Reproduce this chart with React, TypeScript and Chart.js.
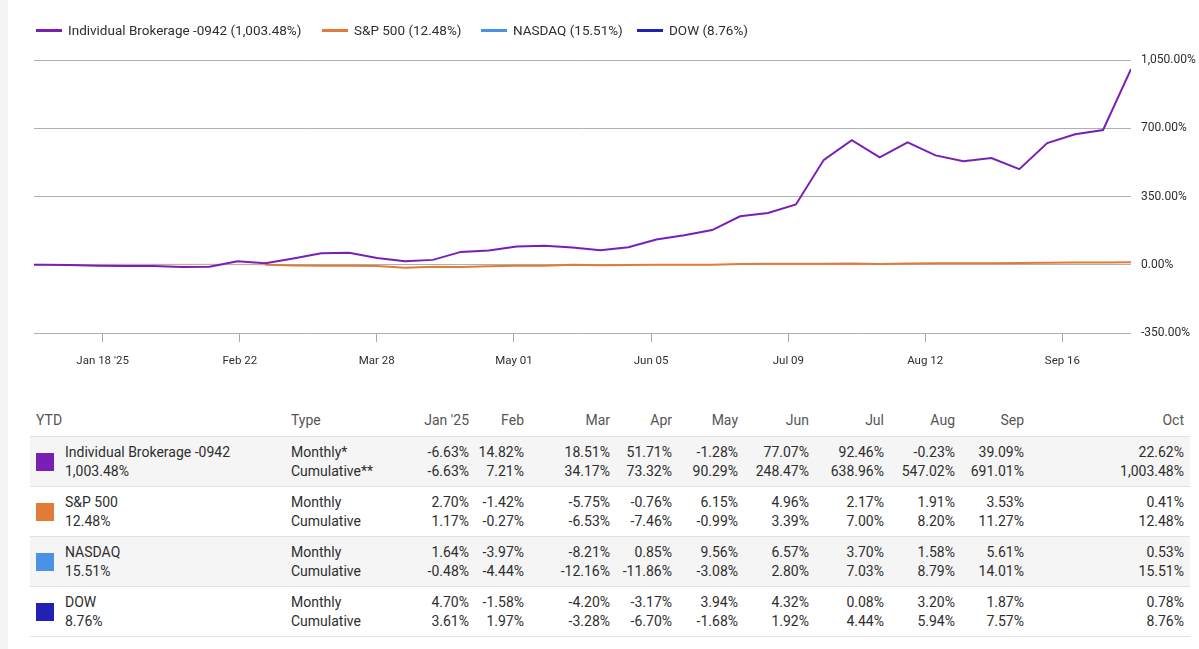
import React, { useEffect, useRef } from "react";
import { Chart, registerables } from "chart.js";

Chart.register(...registerables);

// ---- chart data (weekly, YTD cumulative %) ----
const dates = [
  "2025-01-01", "2025-01-03", "2025-01-10", "2025-01-17", "2025-01-24", "2025-01-31",
  "2025-02-07", "2025-02-14", "2025-02-21", "2025-02-28",
  "2025-03-07", "2025-03-14", "2025-03-21", "2025-03-28",
  "2025-04-04", "2025-04-11", "2025-04-18", "2025-04-25",
  "2025-05-02", "2025-05-09", "2025-05-16", "2025-05-23", "2025-05-30",
  "2025-06-06", "2025-06-13", "2025-06-20", "2025-06-27",
  "2025-07-04", "2025-07-11", "2025-07-18", "2025-07-25",
  "2025-08-01", "2025-08-08", "2025-08-15", "2025-08-22", "2025-08-29",
  "2025-09-05", "2025-09-12", "2025-09-19", "2025-09-26", "2025-10-03",
];

const brokerage = [
  0, 0, -1, -5, -7, -6.63,
  -11, -10, 18, 7.21,
  32, 59, 62, 34.17,
  18, 25, 66, 73.32,
  93, 98, 88, 75, 90.29,
  129, 151, 178, 248.47,
  265, 309, 538, 638.96,
  551, 628, 561, 531, 547.02,
  490, 624, 669, 691.01, 1003.48,
];

const sp500 = [
  0, -0.47, -2.4, 0.44, 2.19, 1.17,
  0.93, 2.41, 0.71, -0.27,
  -3.36, -5.55, -5.07, -6.53,
  -15.0, -10.17, -11.52, -7.46,
  -4.76, -5.2, -0.2, -2.81, -0.99,
  0.5, 0.11, -0.05, 3.39,
  5.17, 4.84, 5.46, 7.0,
  4.48, 7.02, 8.03, 8.31, 8.2,
  8.56, 10.28, 11.62, 11.27, 12.48,
];

const nasdaq = [
  0, -0.51, -2.84, -0.47, 1.18, -0.48,
  -1.01, 1.54, -1.0, -4.44,
  -7.74, -9.98, -9.83, -12.16,
  -20.96, -15.2, -17.42, -11.86,
  -8.84, -9.09, -2.59, -4.99, -3.08,
  -0.97, -1.6, -1.39, 2.8,
  4.46, 4.38, 5.95, 7.03,
  4.7, 8.76, 9.64, 9.0, 8.79,
  10.03, 12.27, 14.75, 14.01, 15.51,
];

const dow = [
  0, -0.61, -2.45, 1.15, 3.33, 3.61,
  3.05, 3.61, 1.01, 1.97,
  -0.44, -3.5, -2.34, -3.28,
  -10.88, -6.47, -8.96, -6.7,
  -3.9, -4.06, -0.79, -3.23, -1.68,
  -0.53, -1.85, -1.83, 1.92,
  4.27, 3.21, 3.14, 4.44,
  1.39, 2.75, 4.54, 6.14, 5.94,
  5.6, 6.61, 7.73, 7.57, 8.76,
];

// x tick positions (days since Jan 1) and their labels
const tickDays = [17.2, 51.6, 85.9, 120.3, 154.7, 189.1, 223.4, 257.8];
const tickLabels = ["Jan 18 '25", "Feb 22", "Mar 28", "May 01", "Jun 05", "Jul 09", "Aug 12", "Sep 16"];
const yMin = -350;
const yMax = 1050;
const yStep = 350;

// ---- series meta ----
const seriesNames = ["Individual Brokerage -0942", "S&P 500", "NASDAQ", "DOW"];
const seriesTotals = ["1,003.48%", "12.48%", "15.51%", "8.76%"];
const seriesColors = ["#7a1fb6", "#e37b38", "#4a93e4", "#2121b3"];
const seriesHiddenOnChart = [false, false, true, true];
const benchmarkFadedUntil = "2025-02-28";

// ---- table data ----
const monthHeaders = ["Jan '25", "Feb", "Mar", "Apr", "May", "Jun", "Jul", "Aug", "Sep", "Oct"];
const typeLabels = [
  ["Monthly*", "Cumulative**"],
  ["Monthly", "Cumulative"],
  ["Monthly", "Cumulative"],
  ["Monthly", "Cumulative"],
];
const brokerageMonthly = [-6.63, 14.82, 18.51, 51.71, -1.28, 77.07, 92.46, -0.23, 39.09, 22.62];
const brokerageCumulative = [-6.63, 7.21, 34.17, 73.32, 90.29, 248.47, 638.96, 547.02, 691.01, 1003.48];
const spMonthly = [2.7, -1.42, -5.75, -0.76, 6.15, 4.96, 2.17, 1.91, 3.53, 0.41];
const spCumulative = [1.17, -0.27, -6.53, -7.46, -0.99, 3.39, 7.0, 8.2, 11.27, 12.48];
const nasdaqMonthly = [1.64, -3.97, -8.21, 0.85, 9.56, 6.57, 3.7, 1.58, 5.61, 0.53];
const nasdaqCumulative = [-0.48, -4.44, -12.16, -11.86, -3.08, 2.8, 7.03, 8.79, 14.01, 15.51];
const dowMonthly = [4.7, -1.58, -4.2, -3.17, 3.94, 4.32, 0.08, 3.2, 1.87, 0.78];
const dowCumulative = [3.61, 1.97, -3.28, -6.7, -1.68, 1.92, 4.44, 5.94, 7.57, 8.76];

const FONT = "Roboto, 'Noto Sans', sans-serif";
const TEXT = "#2e2e2e";

const pct = (v: number) =>
  v.toLocaleString("en-US", { minimumFractionDigits: 2, maximumFractionDigits: 2 }) + "%";

const dayOf = (s: string) => {
  const [y, m, d] = s.split("-").map(Number);
  return (Date.UTC(y, m - 1, d) - Date.UTC(2025, 0, 1)) / 86400000;
};

const legendLeft = [36, 322, 481, 637];

export default function App() {
  const canvasRef = useRef<HTMLCanvasElement | null>(null);

  useEffect(() => {
    const canvas = canvasRef.current;
    if (!canvas) return;
    const xs = dates.map(dayOf);
    const fadeIdx = dates.indexOf(benchmarkFadedUntil);
    const all = [brokerage, sp500, nasdaq, dow];
    const chart = new Chart(canvas, {
      type: "line",
      data: {
        datasets: all.map((vals, k) => ({
          label: seriesNames[k],
          data: vals.map((v, i) => ({ x: xs[i], y: v })),
          borderColor: seriesColors[k],
          backgroundColor: seriesColors[k],
          borderWidth: 2,
          pointRadius: 0,
          pointHoverRadius: 0,
          tension: 0,
          fill: false,
          hidden: seriesHiddenOnChart[k],
          segment:
            k === 0
              ? undefined
              : {
                  borderColor: (c: any) =>
                    c.p1DataIndex <= fadeIdx ? "rgba(240, 170, 120, 0.3)" : undefined,
                },
        })),
      },
      options: {
        responsive: false,
        maintainAspectRatio: false,
        animation: false,
        layout: { padding: { left: 34, right: 0, top: 60, bottom: 7 } },
        plugins: { legend: { display: false }, tooltip: { enabled: false } },
        scales: {
          x: {
            type: "linear",
            min: 0,
            max: dayOf(dates[dates.length - 1]),
            afterBuildTicks: (s: any) => {
              s.ticks = tickDays.map((v) => ({ value: v }));
            },
            afterFit: (s: any) => {
              s.height = 40;
            },
            grid: {
              display: true,
              drawOnChartArea: false,
              drawTicks: true,
              tickLength: 9,
              color: "#a8a8a8",
              lineWidth: 1,
            },
            border: { display: false },
            ticks: {
              autoSkip: false,
              maxRotation: 0,
              padding: 12,
              color: TEXT,
              font: { family: FONT, size: 11.5 },
              callback: (_v: any, i: number) => tickLabels[i],
            },
          },
          y: {
            position: "right",
            min: yMin,
            max: yMax,
            afterFit: (s: any) => {
              s.width = 68;
            },
            grid: { color: "#b0b0b0", lineWidth: 1, drawTicks: false },
            border: { display: false },
            ticks: {
              stepSize: yStep,
              padding: 10,
              color: TEXT,
              font: { family: FONT, size: 12 },
              callback: (v: any) => pct(Number(v)),
            },
          },
        },
      },
    } as any);
    return () => chart.destroy();
  }, []);

  const tableRows = [
    [brokerageMonthly, brokerageCumulative],
    [spMonthly, spCumulative],
    [nasdaqMonthly, nasdaqCumulative],
    [dowMonthly, dowCumulative],
  ];
  const colWidths = [260, 110, 69, 55, 86, 62, 66, 71, 75, 71, 69, 166];

  return (
    <div
      style={{
        position: "absolute",
        left: 0,
        top: 0,
        width: 1199,
        height: 649,
        background: "#ffffff",
        overflow: "hidden",
        fontFamily: FONT,
        color: TEXT,
      }}
    >
      <div style={{ position: "absolute", left: 0, top: 0, width: 8, height: 649, background: "#f3f3f3" }} />
      <canvas
        ref={canvasRef}
        width={1199}
        height={380}
        style={{ position: "absolute", left: 0, top: 0, width: 1199, height: 380 }}
      />
      {seriesNames.map((n, k) => (
        <div
          key={n}
          style={{
            position: "absolute",
            left: legendLeft[k],
            top: 21,
            height: 18,
            display: "flex",
            alignItems: "center",
            fontSize: 13.5,
            whiteSpace: "nowrap",
          }}
        >
          <span style={{ display: "inline-block", width: 26, height: 3, background: seriesColors[k], marginRight: 6 }} />
          <span>
            {n} ({seriesTotals[k]})
          </span>
        </div>
      ))}
      <table
        style={{
          position: "absolute",
          left: 30,
          top: 405,
          width: 1160,
          borderCollapse: "collapse",
          tableLayout: "fixed",
          fontSize: 14,
          lineHeight: "19px",
          color: TEXT,
        }}
      >
        <colgroup>
          {colWidths.map((w, i) => (
            <col key={i} style={{ width: w }} />
          ))}
        </colgroup>
        <thead>
          <tr style={{ height: 31, borderBottom: "1px solid #e2e2e2" }}>
            <th style={{ textAlign: "left", fontWeight: 400, paddingLeft: 6, color: "#555" }}>YTD</th>
            <th style={{ textAlign: "left", fontWeight: 400, color: "#555" }}>Type</th>
            {monthHeaders.map((m, i) => (
              <th
                key={m}
                style={{
                  textAlign: "right",
                  fontWeight: 400,
                  color: "#555",
                  paddingRight: i === monthHeaders.length - 1 ? 6 : 0,
                }}
              >
                {m}
              </th>
            ))}
          </tr>
        </thead>
        <tbody>
          {tableRows.map((r, k) => (
            <tr
              key={k}
              style={{
                background: k % 2 === 0 ? "#f5f5f5" : "#ffffff",
                borderBottom: "1px solid #e2e2e2",
                height: 49,
              }}
            >
              <td style={{ paddingLeft: 6, paddingTop: 6, paddingBottom: 5, verticalAlign: "top" }}>
                <div style={{ display: "flex", alignItems: "center" }}>
                  <span
                    style={{
                      display: "inline-block",
                      width: 18,
                      height: 18,
                      background: seriesColors[k],
                      marginRight: 11,
                      flex: "none",
                    }}
                  />
                  <div>
                    <div>{seriesNames[k]}</div>
                    <div>{seriesTotals[k]}</div>
                  </div>
                </div>
              </td>
              <td style={{ paddingTop: 6, paddingBottom: 5, verticalAlign: "top" }}>
                <div>{typeLabels[k][0]}</div>
                <div>{typeLabels[k][1]}</div>
              </td>
              {monthHeaders.map((m, i) => (
                <td
                  key={m}
                  style={{
                    textAlign: "right",
                    paddingTop: 6,
                    paddingBottom: 5,
                    verticalAlign: "top",
                    paddingRight: i === monthHeaders.length - 1 ? 6 : 0,
                  }}
                >
                  <div>{pct(r[0][i])}</div>
                  <div>{pct(r[1][i])}</div>
                </td>
              ))}
            </tr>
          ))}
        </tbody>
      </table>
    </div>
  );
}
